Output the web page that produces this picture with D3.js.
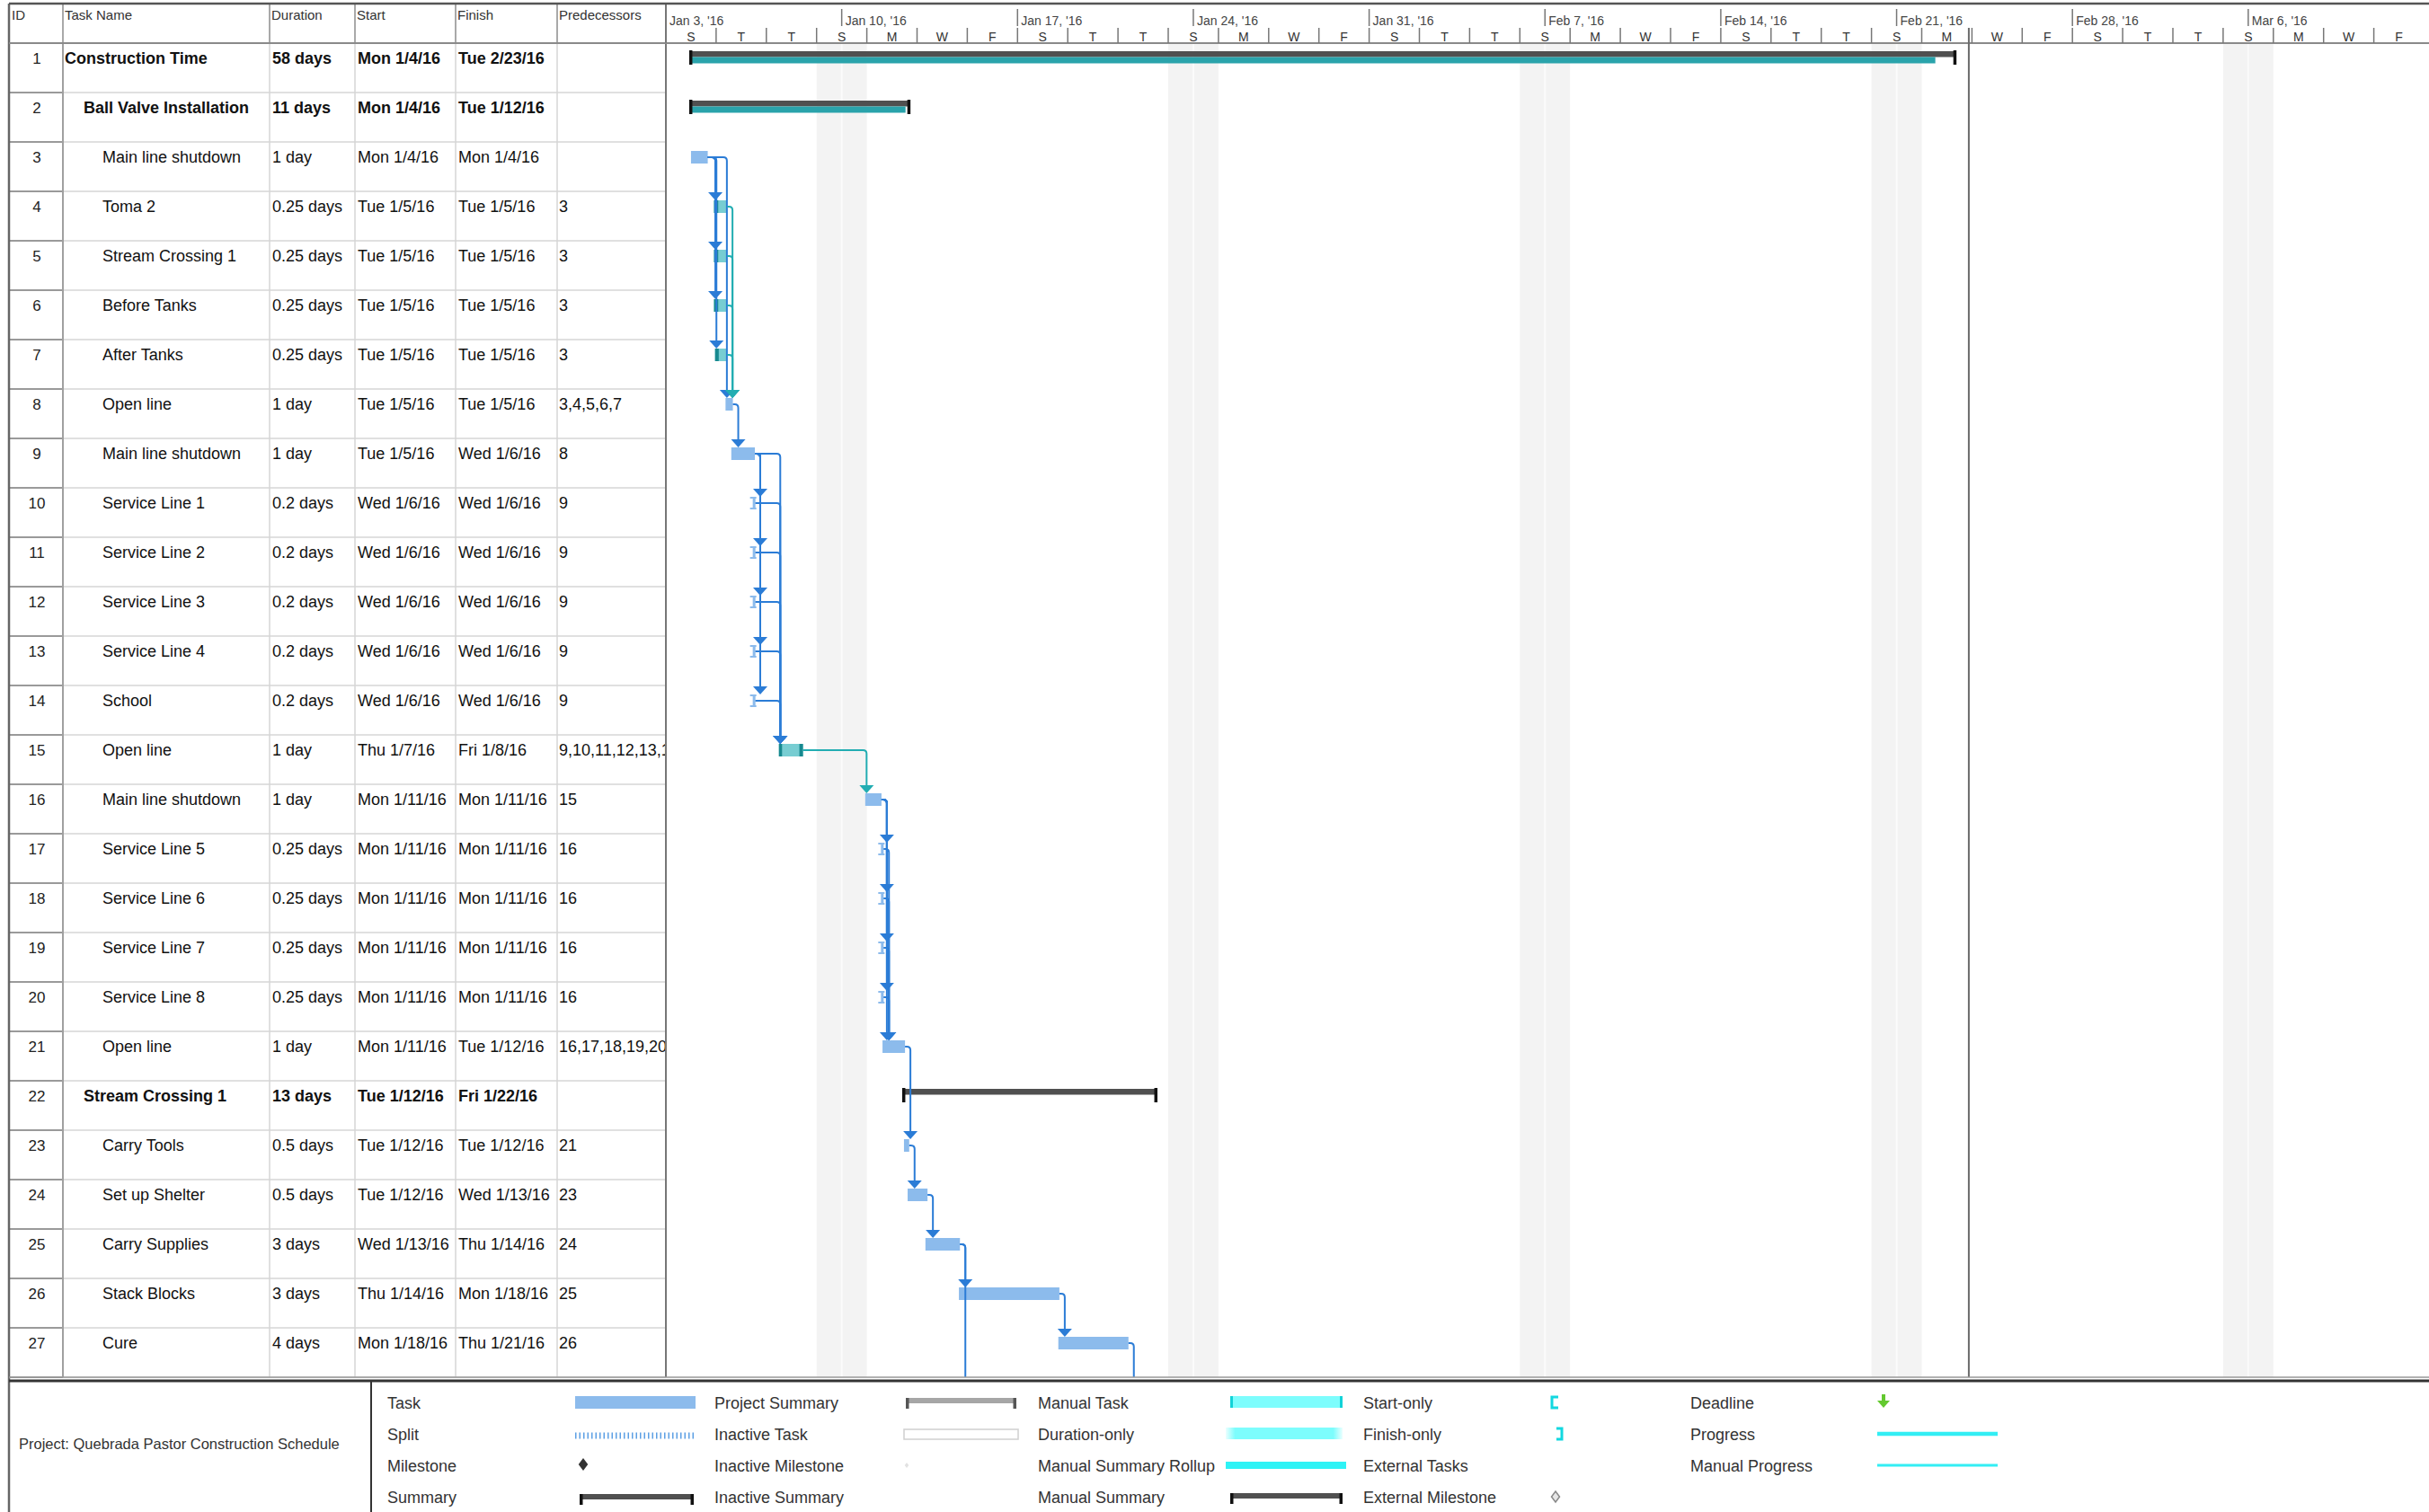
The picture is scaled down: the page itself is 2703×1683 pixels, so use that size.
<!DOCTYPE html>
<html><head><meta charset="utf-8">
<script src="https://cdn.jsdelivr.net/npm/d3@7"></script>
<style>
body{margin:0;background:#fff;}
svg text{font-family:"Liberation Sans",Arial,sans-serif;}
</style>
</head><body>
<svg id="c" width="2703" height="1683"></svg>
<script>
// ---------------- DATA ----------------
const ids = d3.range(1, 28);
const taskNames = ["Construction Time","Ball Valve Installation","Main line shutdown","Toma 2","Stream Crossing 1","Before Tanks","After Tanks","Open line","Main line shutdown","Service Line 1","Service Line 2","Service Line 3","Service Line 4","School","Open line","Main line shutdown","Service Line 5","Service Line 6","Service Line 7","Service Line 8","Open line","Stream Crossing 1","Carry Tools","Set up Shelter","Carry Supplies","Stack Blocks","Cure"];
const outlineLevel = [0,1,2,2,2,2,2,2,2,2,2,2,2,2,2,2,2,2,2,2,2,1,2,2,2,2,2];
const durations = ["58 days","11 days","1 day","0.25 days","0.25 days","0.25 days","0.25 days","1 day","1 day","0.2 days","0.2 days","0.2 days","0.2 days","0.2 days","1 day","1 day","0.25 days","0.25 days","0.25 days","0.25 days","1 day","13 days","0.5 days","0.5 days","3 days","3 days","4 days"];
const startLabels = ["Mon 1/4/16","Mon 1/4/16","Mon 1/4/16","Tue 1/5/16","Tue 1/5/16","Tue 1/5/16","Tue 1/5/16","Tue 1/5/16","Tue 1/5/16","Wed 1/6/16","Wed 1/6/16","Wed 1/6/16","Wed 1/6/16","Wed 1/6/16","Thu 1/7/16","Mon 1/11/16","Mon 1/11/16","Mon 1/11/16","Mon 1/11/16","Mon 1/11/16","Mon 1/11/16","Tue 1/12/16","Tue 1/12/16","Tue 1/12/16","Wed 1/13/16","Thu 1/14/16","Mon 1/18/16"];
const finishLabels = ["Tue 2/23/16","Tue 1/12/16","Mon 1/4/16","Tue 1/5/16","Tue 1/5/16","Tue 1/5/16","Tue 1/5/16","Tue 1/5/16","Wed 1/6/16","Wed 1/6/16","Wed 1/6/16","Wed 1/6/16","Wed 1/6/16","Wed 1/6/16","Fri 1/8/16","Mon 1/11/16","Mon 1/11/16","Mon 1/11/16","Mon 1/11/16","Mon 1/11/16","Tue 1/12/16","Fri 1/22/16","Tue 1/12/16","Wed 1/13/16","Thu 1/14/16","Mon 1/18/16","Thu 1/21/16"];
const predecessors = ["","","","3","3","3","3","3,4,5,6,7","8","9","9","9","9","9","9,10,11,12,13,14","15","16","16","16","16","16,17,18,19,20","","21","23","24","25","26"];
const taskTypes = ["summary","summary","task","teal","teal","teal","teal","task","task","short","short","short","short","short","tealCapped","task","short","short","short","short","task","summary","task","task","task","task","task"];
const barStart = ["2016-01-04T00:00","2016-01-04T00:00","2016-01-04T00:00","2016-01-04T22:00","2016-01-04T22:00","2016-01-04T22:00","2016-01-04T23:00","2016-01-05T09:00","2016-01-05T14:30","2016-01-06T11:00","2016-01-06T11:00","2016-01-06T11:00","2016-01-06T11:00","2016-01-06T11:00","2016-01-07T12:00","2016-01-10T22:30","2016-01-11T13:30","2016-01-11T13:30","2016-01-11T13:30","2016-01-11T13:30","2016-01-11T15:00","2016-01-12T11:30","2016-01-12T11:30","2016-01-12T15:00","2016-01-13T08:00","2016-01-14T16:00","2016-01-18T15:00"];
const barEnd = ["2016-02-23T07:30","2016-01-12T16:00","2016-01-04T16:00","2016-01-05T10:30","2016-01-05T10:30","2016-01-05T10:30","2016-01-05T10:30","2016-01-05T16:00","2016-01-06T13:00","2016-01-06T13:30","2016-01-06T13:30","2016-01-06T13:30","2016-01-06T13:30","2016-01-06T13:30","2016-01-08T11:00","2016-01-11T14:00","2016-01-11T16:00","2016-01-11T16:00","2016-01-11T16:00","2016-01-11T16:00","2016-01-12T12:30","2016-01-22T12:00","2016-01-12T16:30","2016-01-13T10:00","2016-01-14T17:00","2016-01-18T16:00","2016-01-21T10:00"];
const progressEnd = ["2016-02-22T13:00","2016-01-12T13:00",null,"2016-01-05T02:00","2016-01-05T02:00","2016-01-05T02:00","2016-01-05T02:30",null,null,null,null,null,null,null,null,null,null,null,null,null,null,null,null,null,null,null,null];
const continuesBelow = [25, 27]; // tasks whose links run on to rows below the page
const statusDate = "2016-02-23T21:00";
const timelineStart = "2016-01-03T00:00";
const timelineEnd = "2016-03-13T00:00";
const columnHeaders = ["ID","Task Name","Duration","Start","Finish","Predecessors"];
const legendColumns = [
  ["Task","Split","Milestone","Summary"],
  ["Project Summary","Inactive Task","Inactive Milestone","Inactive Summary"],
  ["Manual Task","Duration-only","Manual Summary Rollup","Manual Summary"],
  ["Start-only","Finish-only","External Tasks","External Milestone"],
  ["Deadline","Progress","Manual Progress"]
];
const projectTitle = "Project: Quebrada Pastor Construction Schedule";

// ---------------- LAYOUT ----------------
const W = 2703, H = 1683;
const topY = 4, headerBottom = 48, rowH = 55, nRows = ids.length;
const tableBottom = headerBottom + nRows * rowH;
const colEdges = [10, 70, 300, 395, 507, 620, 741];
const chartLeft = 741;
const parse = d3.timeParse("%Y-%m-%dT%H:%M");
const x = d3.scaleTime().domain([parse(timelineStart), parse(timelineEnd)]).range([chartLeft, chartLeft + 70 * 27.95]);
const rowTop = i => headerBottom + i * rowH;

const C = {
  taskBlue: "#8cbbec", link: "#2b7cd6", tealDark: "#17898f", tealLight: "#77cdd2",
  tealLink: "#22adb2", sumProg: "#2aa3ab", sumBand: "#505050", cap: "#111",
  shade: "#f3f3f3", grid: "#d6d6d6", dark: "#777"
};

const svg = d3.select("#c");
const defs = svg.append("defs");

// ---------------- non-working shading ----------------
const t0 = parse(timelineStart), t1 = parse(timelineEnd);
const minorUnits = d3.range(0, 36).map(i => d3.timeDay.offset(t0, 2 * i)).filter(d => d < t1);
const gShade = svg.append("g");
minorUnits.filter(d => d.getDay() === 6).forEach(d => {
  const xa = x(d), xb = x(d3.timeDay.offset(d, 2));
  gShade.append("rect").attr("x", xa).attr("y", headerBottom).attr("width", xb - xa).attr("height", tableBottom - headerBottom).attr("fill", C.shade);
  gShade.append("line").attr("x1", x(d3.timeDay.offset(d, 1))).attr("x2", x(d3.timeDay.offset(d, 1)))
    .attr("y1", headerBottom).attr("y2", tableBottom).attr("stroke", "#fbfbfb").attr("stroke-width", 2);
});

// ---------------- table grid ----------------
const gGrid = svg.append("g");
for (let i = 1; i <= nRows; i++) {
  const y = rowTop(i);
  gGrid.append("line").attr("x1", 70).attr("x2", chartLeft).attr("y1", y).attr("y2", y).attr("stroke", C.grid).attr("stroke-width", 1.5);
  gGrid.append("line").attr("x1", 10).attr("x2", 70).attr("y1", y).attr("y2", y).attr("stroke", "#9a9a9a").attr("stroke-width", 2);
}
colEdges.slice(2, 6).forEach(cx => {
  gGrid.append("line").attr("x1", cx).attr("x2", cx).attr("y1", headerBottom).attr("y2", tableBottom).attr("stroke", C.grid).attr("stroke-width", 1.5);
});
gGrid.append("line").attr("x1", 70).attr("x2", 70).attr("y1", headerBottom).attr("y2", tableBottom).attr("stroke", "#a0a0a0").attr("stroke-width", 2);
colEdges.slice(1, 6).forEach(cx => {
  gGrid.append("line").attr("x1", cx).attr("x2", cx).attr("y1", topY).attr("y2", headerBottom).attr("stroke", "#8c8c8c").attr("stroke-width", 1.5);
});
gGrid.append("line").attr("x1", 10).attr("x2", 10).attr("y1", topY).attr("y2", H).attr("stroke", "#666").attr("stroke-width", 2.5);
gGrid.append("line").attr("x1", chartLeft).attr("x2", chartLeft).attr("y1", topY).attr("y2", tableBottom).attr("stroke", "#777").attr("stroke-width", 2);
gGrid.append("line").attr("x1", 10).attr("x2", W).attr("y1", topY).attr("y2", topY).attr("stroke", "#555").attr("stroke-width", 2.5);
gGrid.append("line").attr("x1", 10).attr("x2", W).attr("y1", headerBottom).attr("y2", headerBottom).attr("stroke", "#8a8a8a").attr("stroke-width", 2);

// column headers
const headerX = [13, 72, 302, 397, 509, 622];
columnHeaders.forEach((h, k) => {
  svg.append("text").attr("x", headerX[k]).attr("y", 22).attr("font-size", 15).attr("fill", "#333").text(h);
});

// ---------------- timeline header ----------------
const gHead = svg.append("g");
const weekFmt = d3.timeFormat("%b %-d, '%y");
d3.timeWeek.range(t0, t1).forEach(d => {
  const xx = x(d);
  gHead.append("line").attr("x1", xx).attr("x2", xx).attr("y1", 10).attr("y2", 29).attr("stroke", "#777").attr("stroke-width", 1.5);
  gHead.append("text").attr("x", xx + 4).attr("y", 28).attr("font-size", 14).attr("fill", "#444").text(weekFmt(d));
});
const dayInitial = "SMTWTFS";
minorUnits.forEach(d => {
  const xa = x(d), xb = x(d3.timeDay.offset(d, 2));
  gHead.append("line").attr("x1", xa).attr("x2", xa).attr("y1", 31).attr("y2", headerBottom).attr("stroke", "#777").attr("stroke-width", 1.5);
  if (xb <= W + 30) gHead.append("text").attr("x", (xa + xb) / 2).attr("y", 46).attr("text-anchor", "middle").attr("font-size", 14).attr("fill", "#333").text(dayInitial[d.getDay()]);
});

// ---------------- table text ----------------
const cellX = [41, null, 303, 398, 510, 622];
colEdges.slice(0, 6).forEach((cx, k) => {
  defs.append("clipPath").attr("id", "clip" + k).append("rect")
    .attr("x", cx).attr("y", 0).attr("width", colEdges[k + 1] - cx - 1).attr("height", H);
});
const gText = svg.append("g");
ids.forEach((id, i) => {
  const base = rowTop(i) + 23;
  const bold = taskTypes[i] === "summary" ? "bold" : "normal";
  gText.append("text").attr("x", cellX[0]).attr("y", base).attr("text-anchor", "middle").attr("font-size", 17).attr("fill", "#222").text(id);
  gText.append("text").attr("x", 72 + outlineLevel[i] * 21).attr("y", base).attr("font-size", 18).attr("font-weight", bold).attr("fill", "#111").attr("clip-path", "url(#clip1)").text(taskNames[i]);
  [durations[i], startLabels[i], finishLabels[i], predecessors[i]].forEach((v, k) => {
    gText.append("text").attr("x", cellX[k + 2]).attr("y", base).attr("font-size", 18)
      .attr("font-weight", k < 3 ? bold : "normal").attr("fill", "#111")
      .attr("clip-path", `url(#clip${k + 2})`).text(v);
  });
});

// ---------------- bars ----------------
const gBars = svg.append("g");
ids.forEach((id, i) => {
  const x1 = x(parse(barStart[i])), x2 = x(parse(barEnd[i]));
  const top = rowTop(i);
  const type = taskTypes[i];
  if (type === "summary") {
    gBars.append("rect").attr("x", x1).attr("y", top + 9).attr("width", x2 - x1).attr("height", 6.5).attr("fill", C.sumBand);
    if (progressEnd[i]) {
      const xp = x(parse(progressEnd[i]));
      gBars.append("rect").attr("x", x1).attr("y", top + 15.5).attr("width", xp - x1).attr("height", 7).attr("fill", C.sumProg);
    }
    gBars.append("rect").attr("x", x1 - 2).attr("y", top + 8).attr("width", 3.5).attr("height", 16).attr("fill", C.cap);
    gBars.append("rect").attr("x", x2 - 1.5).attr("y", top + 8).attr("width", 3.5).attr("height", 16).attr("fill", C.cap);
  } else if (type === "task") {
    gBars.append("rect").attr("x", x1).attr("y", top + 10).attr("width", Math.max(3, x2 - x1)).attr("height", 14).attr("fill", C.taskBlue);
  } else if (type === "short") {
    const w = Math.max(3, x2 - x1);
    gBars.append("rect").attr("x", x1).attr("y", top + 10).attr("width", w).attr("height", 14).attr("fill", C.taskBlue);
    gBars.append("rect").attr("x", x1 - 3).attr("y", top + 10).attr("width", 7).attr("height", 2).attr("fill", C.taskBlue);
    gBars.append("rect").attr("x", x1 - 3).attr("y", top + 22).attr("width", 7).attr("height", 2).attr("fill", C.taskBlue);
  } else if (type === "teal") {
    gBars.append("rect").attr("x", x1).attr("y", top + 10).attr("width", x2 - x1).attr("height", 14).attr("fill", C.tealLight);
    const xp = x(parse(progressEnd[i]));
    gBars.append("rect").attr("x", x1).attr("y", top + 10).attr("width", xp - x1).attr("height", 14).attr("fill", C.tealDark);
  } else if (type === "tealCapped") {
    gBars.append("rect").attr("x", x1).attr("y", top + 10).attr("width", x2 - x1).attr("height", 14).attr("fill", C.tealLight);
    gBars.append("rect").attr("x", x1).attr("y", top + 10).attr("width", 3.5).attr("height", 14).attr("fill", C.tealDark);
    gBars.append("rect").attr("x", x2 - 4).attr("y", top + 10).attr("width", 4).attr("height", 14).attr("fill", C.tealDark);
  }
});

// ---------------- links ----------------
const gLinks = svg.append("g").attr("fill", "none");
const isTeal = i => taskTypes[i] === "teal" || taskTypes[i] === "tealCapped";
function linkPath(xs, yc, xv, yEnd) {
  const r = 4;
  return `M${xs},${yc} H${xv - r} Q${xv},${yc} ${xv},${yc + r} V${yEnd}`;
}
const links = [];
predecessors.forEach((p, si) => {
  if (!p) return;
  p.split(",").map(Number).forEach(pid => links.push({ p: pid - 1, s: si }));
});
links.forEach(l => {
  const pEnd = x(parse(barEnd[l.p]));
  const sStart = x(parse(barStart[l.s]));
  const yc = rowTop(l.p) + 17;
  const xv = Math.max(pEnd + 6, sStart + 1.5);
  const sTop = rowTop(l.s) + 10;
  const col = isTeal(l.p) ? C.tealLink : C.link;
  gLinks.append("path").attr("d", linkPath(pEnd, yc, xv, sTop - 8)).attr("stroke", col).attr("stroke-width", 2);
  gLinks.append("path").attr("d", `M${xv - 8},${sTop - 9} L${xv + 8},${sTop - 9} L${xv},${sTop} Z`).attr("fill", col);
});
continuesBelow.forEach(id => {
  const i = id - 1;
  const pEnd = x(parse(barEnd[i]));
  const yc = rowTop(i) + 17;
  gLinks.append("path").attr("d", linkPath(pEnd, yc, pEnd + 6, tableBottom)).attr("stroke", C.link).attr("stroke-width", 2);
});

// status line
svg.append("line").attr("x1", x(parse(statusDate))).attr("x2", x(parse(statusDate)))
  .attr("y1", 31).attr("y2", tableBottom).attr("stroke", "#6a6a6a").attr("stroke-width", 2);

// ---------------- legend ----------------
const gLeg = svg.append("g");
gLeg.append("line").attr("x1", 10).attr("x2", W).attr("y1", tableBottom).attr("y2", tableBottom).attr("stroke", "#999").attr("stroke-width", 1.5);
gLeg.append("line").attr("x1", 10).attr("x2", W).attr("y1", tableBottom + 4).attr("y2", tableBottom + 4).attr("stroke", "#333").attr("stroke-width", 3);
gLeg.append("line").attr("x1", 413).attr("x2", 413).attr("y1", tableBottom + 4).attr("y2", H).attr("stroke", "#333").attr("stroke-width", 2);
gLeg.append("text").attr("x", 21).attr("y", 1613).attr("font-size", 16.5).attr("fill", "#333").text(projectTitle);

const legLabelX = [431, 795, 1155, 1517, 1881];
const legSwatch = [[640, 774], [1008, 1131], [1369, 1494], [1726, 1740], [2089, 2223]];
const legRowY = [1561, 1596, 1631, 1666];

const grad = defs.append("linearGradient").attr("id", "durOnly");
[[0, 0.15], [0.08, 1], [0.92, 1], [1, 0.15]].forEach(([o, a]) =>
  grad.append("stop").attr("offset", o).attr("stop-color", "#7dfdfd").attr("stop-opacity", a));

function diamond(g, cx, cy, r, fill, stroke) {
  g.append("path").attr("d", `M${cx},${cy - r} L${cx + r * 0.75},${cy} L${cx},${cy + r} L${cx - r * 0.75},${cy} Z`)
    .attr("fill", fill).attr("stroke", stroke || "none").attr("stroke-width", 1.5);
}
function summaryShape(g, a, b, cy, band, cap) {
  g.append("rect").attr("x", a).attr("y", cy - 5).attr("width", b - a).attr("height", 6).attr("fill", band);
  g.append("rect").attr("x", a).attr("y", cy - 5).attr("width", 3.5).attr("height", 12).attr("fill", cap);
  g.append("rect").attr("x", b - 3.5).attr("y", cy - 5).attr("width", 3.5).attr("height", 12).attr("fill", cap);
}
function drawSwatch(name, a, b, cy) {
  const g = gLeg;
  switch (name) {
    case "Task": g.append("rect").attr("x", a).attr("y", cy - 7).attr("width", b - a).attr("height", 14).attr("fill", C.taskBlue); break;
    case "Split": g.append("line").attr("x1", a).attr("x2", b).attr("y1", cy + 2).attr("y2", cy + 2).attr("stroke", "#5c9fe4").attr("stroke-width", 7).attr("stroke-dasharray", "1.5 3"); break;
    case "Milestone": diamond(g, a + 9, cy - 1, 7, "#333"); break;
    case "Summary": summaryShape(g, a + 5, b - 2, cy + 2, C.sumBand, C.cap); break;
    case "Project Summary": summaryShape(g, a, b, cy, "#a6a6a6", "#555"); break;
    case "Inactive Task": g.append("rect").attr("x", a - 2).attr("y", cy - 5).attr("width", b - a + 4).attr("height", 11).attr("fill", "#fff").attr("stroke", "#d0d0d0").attr("stroke-width", 1.5); break;
    case "Inactive Milestone": diamond(g, a + 1, cy, 3, "#e2e2e2"); break;
    case "Manual Task":
      g.append("rect").attr("x", a).attr("y", cy - 7).attr("width", b - a).attr("height", 13).attr("fill", "#7dfdfd");
      g.append("rect").attr("x", a).attr("y", cy - 7).attr("width", 3).attr("height", 13).attr("fill", "#12d2d8");
      g.append("rect").attr("x", b - 3).attr("y", cy - 7).attr("width", 3).attr("height", 13).attr("fill", "#12d2d8"); break;
    case "Duration-only": g.append("rect").attr("x", a - 5).attr("y", cy - 7).attr("width", b - a + 5).attr("height", 13).attr("fill", "url(#durOnly)"); break;
    case "Manual Summary Rollup": g.append("rect").attr("x", a - 5).attr("y", cy - 4).attr("width", b - a + 9).attr("height", 8).attr("fill", "#2ef3f6"); break;
    case "Manual Summary": summaryShape(g, a, b, cy + 1, C.sumBand, C.cap); break;
    case "Start-only": g.append("path").attr("d", `M${a + 8},${cy - 6} H${a + 1} V${cy + 6} H${a + 8}`).attr("fill", "none").attr("stroke", "#12d8e0").attr("stroke-width", 3); break;
    case "Finish-only": g.append("path").attr("d", `M${a + 6},${cy - 6} H${a + 12} V${cy + 6} H${a + 6}`).attr("fill", "none").attr("stroke", "#12d8e0").attr("stroke-width", 3); break;
    case "External Milestone": diamond(g, a + 5, cy, 6, "#e6e6e6", "#888"); break;
    case "Deadline":
      g.append("rect").attr("x", a + 5).attr("y", cy - 9).attr("width", 4).attr("height", 9).attr("fill", "#63c92f");
      g.append("path").attr("d", `M${a},${cy - 2} L${a + 14},${cy - 2} L${a + 7},${cy + 6} Z`).attr("fill", "#63c92f"); break;
    case "Progress": g.append("line").attr("x1", a).attr("x2", b).attr("y1", cy).attr("y2", cy).attr("stroke", "#33eef4").attr("stroke-width", 4.5); break;
    case "Manual Progress": g.append("line").attr("x1", a).attr("x2", b).attr("y1", cy).attr("y2", cy).attr("stroke", "#33eef4").attr("stroke-width", 3); break;
  }
}
legendColumns.forEach((col, ci) => {
  col.forEach((name, ri) => {
    const cy = legRowY[ri];
    gLeg.append("text").attr("x", legLabelX[ci]).attr("y", cy + 6.5).attr("font-size", 18).attr("fill", "#333").text(name);
    drawSwatch(name, legSwatch[ci][0], legSwatch[ci][1], cy);
  });
});
</script>
</body></html>
